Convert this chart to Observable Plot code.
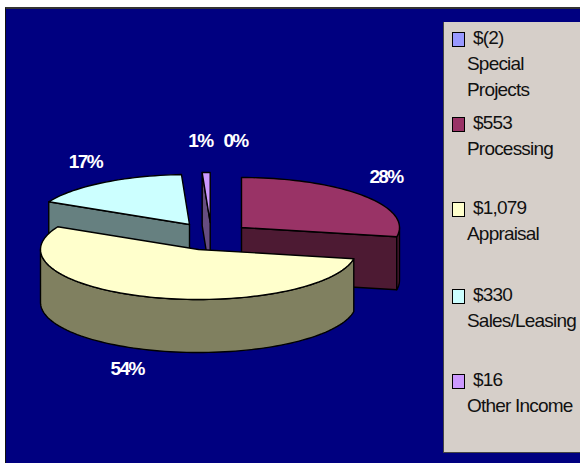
<!DOCTYPE html>
<html>
<head>
<meta charset="utf-8">
<script src="https://cdn.jsdelivr.net/npm/d3@7"></script>
<script src="https://cdn.jsdelivr.net/npm/@observablehq/plot@0.6"></script>
<style>
  html, body { margin: 0; padding: 0; background: #fff; overflow: hidden; }
  #frame { position: absolute; left: 5px; top: 7px; width: 575px; height: 456px; background: #000080;
           border-top: 2px solid #333; border-left: 1px solid #111; box-sizing: border-box; }
  #chart { position: absolute; left: -6px; top: -9px; }
  #chart svg { background: transparent; display: block; }
  #chart text { letter-spacing: -1.6px; }
  #legend { position: absolute; left: 437px; top: 13px; width: 138px; height: 431px; background: #d6cfc9;
            border-left: 1px solid #444; border-bottom: 1px solid #444; box-sizing: border-box;
            font-family: "Liberation Sans", Arial, sans-serif; font-size: 19px; letter-spacing: -0.8px; color: #111; }
  .item { position: absolute; left: 0; width: 100%; }
  .sw { position: absolute; left: 8px; top: 0; width: 11px; height: 13px; border: 1px solid #000; box-sizing: content-box; }
  .val { position: absolute; left: 29px; top: -5px; white-space: nowrap; }
  .name { position: absolute; left: 23px; top: 19px; line-height: 25.5px; white-space: nowrap; }
</style>
</head>
<body>
<div id="frame">
  <div id="chart"></div>
  <div id="legend"></div>
</div>
<script>
// Data
const categories = ["Special Projects", "Processing", "Appraisal", "Sales/Leasing", "Other Income"];
const amounts = [-2, 553, 1079, 330, 16];
const amountLabels = ["$(2)", "$553", "$1,079", "$330", "$16"];
const percentLabels = ["0%", "28%", "54%", "17%", "1%"];
const nameLines = [["Special", "Projects"], ["Processing"], ["Appraisal"], ["Sales/Leasing"], ["Other Income"]];
const colors = ["#9999ff", "#993366", "#ffffcc", "#ccffff", "#cc99ff"];
const wallColors = ["#4d4d80", "#4d1a33", "#808060", "#668080", "#664d80"];

// Look of the tilted, exploded pie (pixels on screen)
const cx = 215, cy = 235, rx = 158, ry = 50, depth = 53;
const explodePx = [[20, -13], [26, -8], [-17, 14], [-26, -11], [-5.3, -13]];
const labelReach = [[1, 1.64], [1.18, 1.57], [1.38, 1.4], [1.2, 1.48], [1.2, 1.64]];
const labelNudgePx = [0, 1, -1, -1, -5];
const paintOrder = [0, 4, 3, 1, 2];
const legendTops = [23, 108, 193, 280, 365];

const depthU = depth / ry;
const arcs = d3.pie().sort(null).value(d => Math.max(d, 0)).startAngle(0).endAngle(2 * Math.PI)(amounts);
const slices = arcs.map((a, i) => ({
  i, a0: a.startAngle, a1: a.endAngle,
  ax: explodePx[i][0] / rx, ay: explodePx[i][1] / ry
}));
const rim = (s, t) => ({ x: s.ax + Math.sin(t), y: s.ay - Math.cos(t) });
const sweep = (s, from, to) => {
  const n = Math.max(1, Math.ceil((to - from) / (Math.PI / 90)));
  return d3.range(n + 1).map(k => rim(s, from + (to - from) * k / n));
};
const lower = p => ({ x: p.x, y: p.y + depthU });
const closed = pts => [...pts, pts[0]];

const marks = [];
const polygon = (pts, fill) => marks.push(Plot.line(closed(pts), {
  x: "x", y: "y", fill, stroke: "#000", strokeWidth: 1.4, strokeLinejoin: "round", curve: "linear"
}));

for (const i of paintOrder) {
  const s = slices[i];
  if (s.a1 - s.a0 < 1e-6) continue;
  const apex = { x: s.ax, y: s.ay };
  const wall = wallColors[i];
  if (Math.sin(s.a0) < 0) {
    const e = rim(s, s.a0);
    polygon([apex, e, lower(e), lower(apex)], wall);
  }
  if (Math.sin(s.a1) > 0) {
    const e = rim(s, s.a1);
    polygon([apex, e, lower(e), lower(apex)], wall);
  }
  const from = Math.max(s.a0, Math.PI / 2), to = Math.min(s.a1, 3 * Math.PI / 2);
  if (to > from) {
    const edge = sweep(s, from, to);
    polygon([...edge, ...edge.map(lower).reverse()], wall);
  }
  polygon([apex, ...sweep(s, s.a0, s.a1)], colors[i]);
}

const labels = arcs.map((a, i) => {
  const mid = (a.startAngle + a.endAngle) / 2, s = slices[i];
  const c = Math.cos(mid);
  return {
    x: s.ax + labelReach[i][0] * Math.sin(mid) + labelNudgePx[i] / rx,
    y: s.ay - labelReach[i][1] * c + (c < 0 ? depthU : 0),
    text: percentLabels[i]
  };
});
marks.push(Plot.text(labels, {
  x: "x", y: "y", text: "text", fill: "#fff", fontWeight: "bold", fontSize: 19,
  fontFamily: "'Liberation Sans', Arial, sans-serif", textAnchor: "middle", lineAnchor: "middle"
}));

const plot = Plot.plot({
  width: 442, height: 460,
  margin: 0,
  style: { background: "transparent", overflow: "visible" },
  x: { domain: [-1, 1], range: [cx - rx, cx + rx], axis: null },
  y: { domain: [-1, 1], range: [cy - ry, cy + ry], axis: null },
  marks
});
document.getElementById("chart").append(plot);

const legend = d3.select("#legend");
categories.forEach((c, i) => {
  const item = legend.append("div").attr("class", "item").style("top", legendTops[i] - 13 + "px");
  item.append("span").attr("class", "sw").style("background", colors[i]);
  item.append("span").attr("class", "val").text(amountLabels[i]);
  item.append("div").attr("class", "name").html(nameLines[i].join("<br>"));
});
</script>
</body>
</html>
